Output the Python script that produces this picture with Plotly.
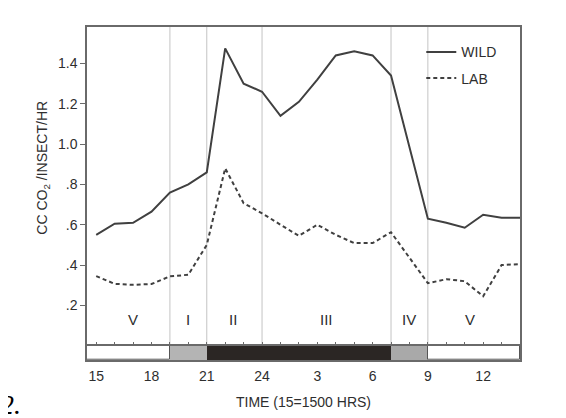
import plotly.graph_objects as go
from plotly.subplots import make_subplots

# ---- data (hours since midnight of day 1; 24 = midnight, 38 = 14:00 next day)
hours = list(range(15, 39))
wild = [0.55, 0.605, 0.61, 0.665, 0.76, 0.80, 0.86, 1.475, 1.30, 1.26, 1.14, 1.21,
        1.32, 1.44, 1.46, 1.44, 1.34, 0.98, 0.63, 0.61, 0.585, 0.65, 0.635, 0.635]
lab = [0.345, 0.307, 0.302, 0.306, 0.344, 0.352, 0.50, 0.88, 0.707, 0.657, 0.60, 0.545,
       0.60, 0.55, 0.509, 0.509, 0.563, 0.435, 0.31, 0.33, 0.32, 0.245, 0.40, 0.405]

x_tickvals = [15, 18, 21, 24, 27, 30, 33, 36]
x_ticktext = ["15", "18", "21", "24", "3", "6", "9", "12"]
y_tickvals = [0.2, 0.4, 0.6, 0.8, 1.0, 1.2, 1.4]
y_ticktext = [".2", ".4", ".6", ".8", "1.0", "1.2", "1.4"]

phase_bounds = [19, 21, 24, 31, 33]
phase_labels = ["V", "I", "II", "III", "IV", "V"]
phase_label_x = [17, 20, 22.45, 27.5, 32, 35.3]
phase_label_y = 0.13

light_starts = [14.5, 19, 21, 31, 33]
light_ends = [19, 21, 31, 33, 38]
light_colors = ["#ffffff", "#b4b4b4", "#2b2624", "#a9a9a9", "#ffffff"]

x_range = [14.5, 38]
y_range = [0, 1.581]

INK = "#2e2e2e"
FRAME = "#6a6a6a"
FONT = "Liberation Sans, Arial, sans-serif"

fig = make_subplots(rows=2, cols=1, shared_xaxes=True, vertical_spacing=0,
                    row_heights=[319, 14.3])

fig.add_trace(go.Scatter(x=hours, y=wild, mode="lines", name="WILD",
                         legendgroup="w",
                         line=dict(color="#404040", width=2)), row=1, col=1)
fig.add_trace(go.Scatter(x=hours, y=lab, mode="lines", name="LAB",
                         legendgroup="l",
                         line=dict(color="#404040", width=2, dash="4px,3px")), row=1, col=1)

for a, b, c in zip(light_starts, light_ends, light_colors):
    fig.add_trace(go.Bar(x=[(a + b) / 2], y=[1], width=[b - a], marker_color=c,
                         marker_line=dict(color="#555555", width=1 if c == "#ffffff" else 0),
                         showlegend=False, hoverinfo="skip"), row=2, col=1)

for xb in phase_bounds:
    fig.add_shape(type="line", xref="x", yref="y domain", x0=xb, x1=xb, y0=0, y1=1,
                  line=dict(color="#c4c4c4", width=1), layer="below")

for t, xp in zip(phase_labels, phase_label_x):
    fig.add_annotation(x=xp, y=phase_label_y, xref="x", yref="y", text=t,
                       showarrow=False, font=dict(family=FONT, size=15, color=INK))

# axis titles
fig.add_annotation(xref="paper", yref="paper", x=-0.102, y=0.577,
                   xanchor="center", yanchor="middle",
                   text="CC CO<sub>2</sub> /INSECT/HR", textangle=-90, showarrow=False,
                   font=dict(family=FONT, size=14, color=INK))
fig.add_annotation(xref="paper", yref="paper", x=0.5, y=-0.125, yanchor="middle",
                   text="TIME (15=1500 HRS)", showarrow=False,
                   font=dict(family=FONT, size=14, color=INK))
# stray figure number at bottom-left corner
fig.add_annotation(xref="paper", yref="paper", x=-0.205, y=-0.135, xanchor="left",
                   yanchor="middle", text="<i>2.</i>", showarrow=False,
                   font=dict(family="Liberation Serif, serif", size=28, color="#000000"))

fig.update_xaxes(range=x_range, showgrid=False, zeroline=False)
fig.update_xaxes(row=1, col=1, showline=True, linecolor=FRAME, linewidth=1.5, mirror=True,
                 ticks="inside", tick0=15, dtick=1, ticklen=4, tickcolor=FRAME,
                 showticklabels=False)
fig.update_xaxes(row=2, col=1, showline=True, linecolor=FRAME, linewidth=1.5, mirror=True,
                 tickmode="array", tickvals=x_tickvals, ticktext=x_ticktext,
                 ticks="outside", ticklen=2, tickcolor="rgba(0,0,0,0)",
                 tickfont=dict(family=FONT, size=14, color=INK))
fig.update_yaxes(row=1, col=1, range=y_range, showgrid=False, zeroline=False,
                 showline=True, linecolor=FRAME, linewidth=1.5, mirror=True,
                 tickmode="array", tickvals=y_tickvals, ticktext=y_ticktext,
                 ticks="outside", ticklen=5, tickcolor=FRAME,
                 tickfont=dict(family=FONT, size=14, color=INK))
fig.update_yaxes(row=2, col=1, range=[0, 1], showgrid=False, zeroline=False,
                 showline=True, linecolor=FRAME, linewidth=1.5, mirror=True,
                 showticklabels=False, ticks="")

fig.update_layout(
    width=566, height=418,
    margin=dict(l=79, r=54, t=19, b=66),
    paper_bgcolor="white", plot_bgcolor="white",
    barmode="overlay", bargap=0,
    showlegend=True,
    legend=dict(x=0.772, y=0.972, xanchor="left", yanchor="top",
                bgcolor="rgba(0,0,0,0)", tracegroupgap=5,
                font=dict(family=FONT, size=14, color=INK)),
)

fig.write_html("out.html")
